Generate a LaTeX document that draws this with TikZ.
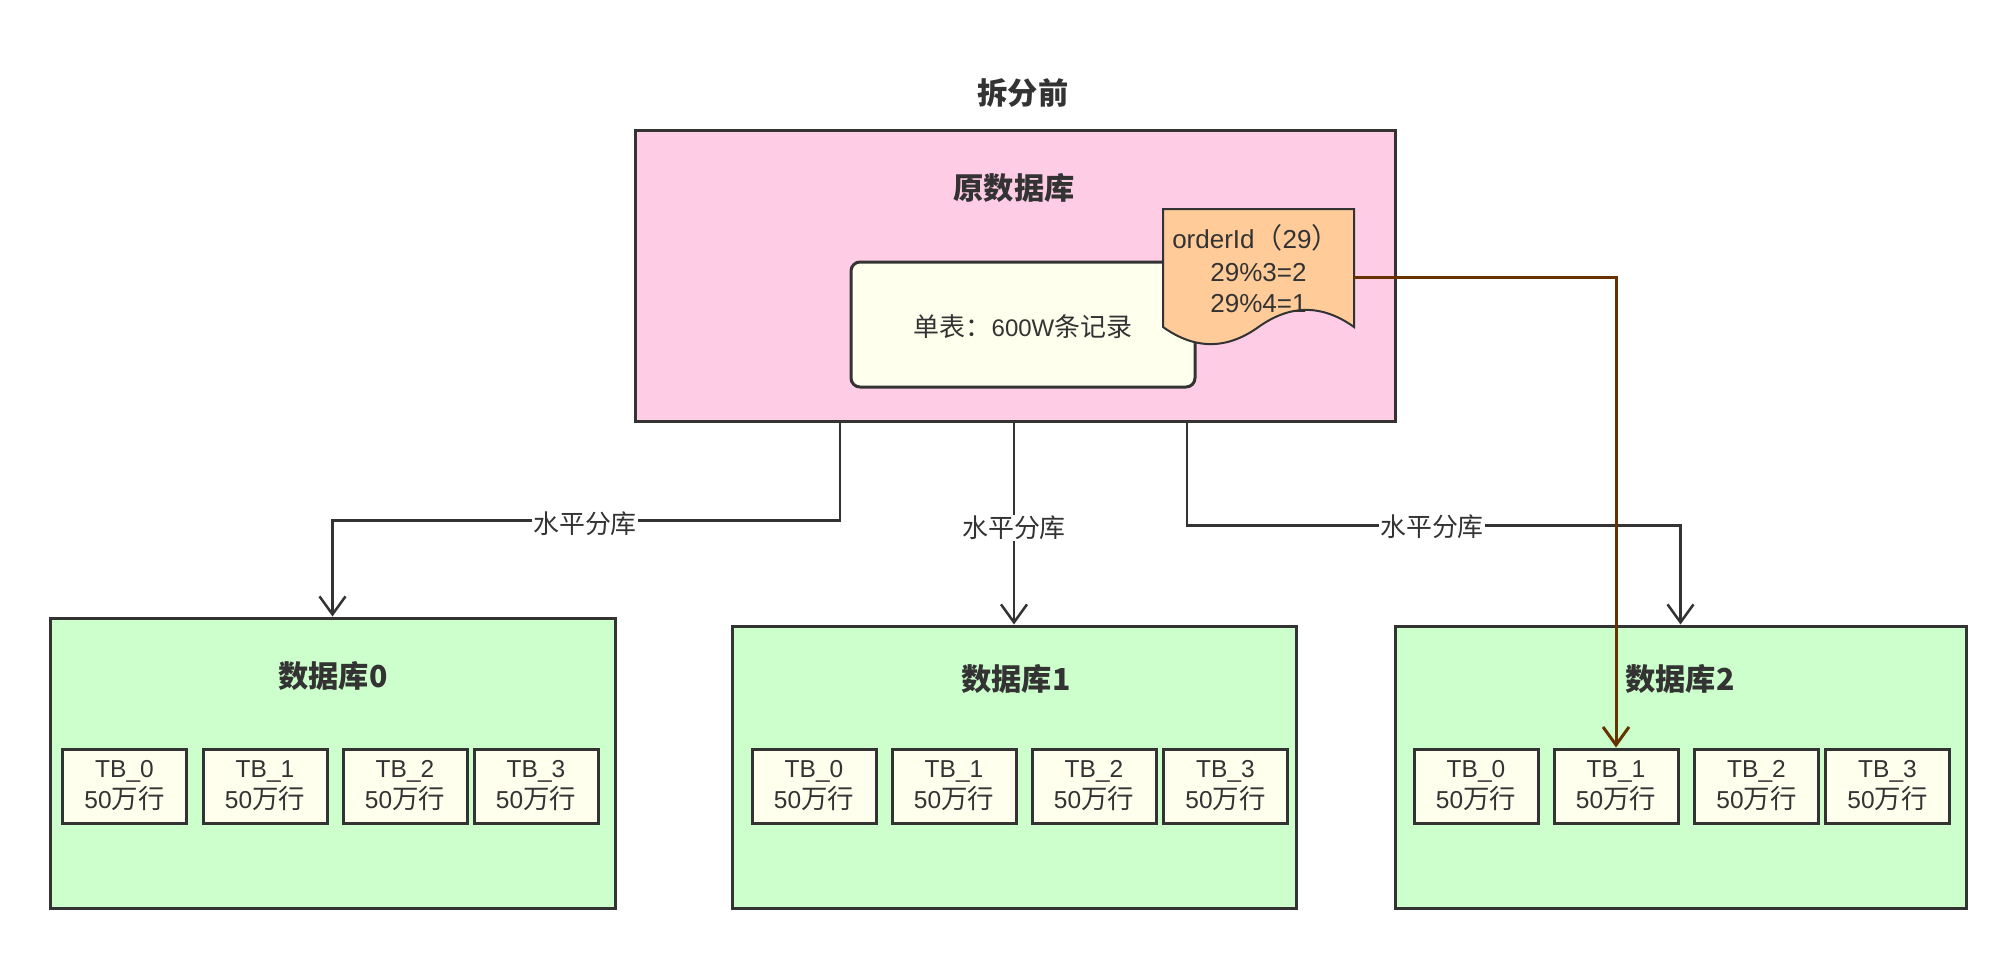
\documentclass[tikz,border=0pt]{standalone}
\usepackage{fontspec}
\setmainfont{Liberation Sans}
\newfontfamily\cjk[Scale=1.08]{Noto Sans CJK SC}
\usetikzlibrary{arrows.meta,calc}
\definecolor{ink}{HTML}{333333}
\definecolor{pinkfill}{HTML}{FFCCE6}
\definecolor{greenfill}{HTML}{CCFFCC}
\definecolor{notefill}{HTML}{FFFFEE}
\definecolor{docfill}{HTML}{FFCC99}
\definecolor{brownline}{HTML}{663300}
\tikzset{
  box/.style={draw=ink, line width=3pt, inner sep=0pt, rectangle},
  dbbox/.style={box, fill=greenfill, minimum height=282pt},
  tbbox/.style={box, fill=notefill, minimum width=124pt, minimum height=74pt, align=center,
    font=\fontsize{24.5}{31}\selectfont},
  ttl/.style={font=\fontsize{28}{34}\selectfont\cjk\bfseries, inner sep=0pt},
  plain/.style={font=\fontsize{24}{31}\selectfont, inner sep=0pt},
  doctext/.style={font=\fontsize{26}{31}\selectfont, inner sep=0pt, anchor=base},
  conn/.style={draw=ink, line width=2.5pt, -{Straight Barb[length=18pt,width=26pt]}},
  lbl/.style={fill=white, inner sep=1pt, font=\fontsize{24}{24}\selectfont\cjk},
}
\begin{document}
\begin{tikzpicture}[x=1pt,y=-1pt, every node/.append style={text=ink}]
\useasboundingbox (0,0) rectangle (2016,958);

% title
\node[ttl] (title) at (1023,93) {拆分前};

% original database
\node[box, fill=pinkfill, minimum width=760pt, minimum height=291pt] (orig) at (1015,275.5) {};
\node[ttl] (origt) at (1014,188) {原数据库};
\node[box, fill=notefill, rounded corners=9pt, minimum width=344pt, minimum height=125pt] (single) at (1023,324.5) {};
\node[plain] (singlet) at (1023,327) {{\cjk 单表：}600W{\cjk 条记录}};

% document shape
\node[minimum width=191pt, minimum height=137pt, inner sep=0pt] (doc) at (1258.5,277.5) {};
\draw[draw=ink, fill=docfill, line width=2pt] (1163,209) -- (1354,209) -- (1354,327)
  .. controls (1322.2,304.2) and (1290.3,304.2) .. (1258.5,327)
  .. controls (1226.7,349.8) and (1194.8,349.8) .. (1163,327) -- cycle;
\node[doctext] (doc1) at (1256,248) {orderId{\cjk （}29{\cjk ）}};
\node[doctext] (doc2) at (1258.5,281) {29\%3=2};
\node[doctext] (doc3) at (1258.5,312) {29\%4=1};

% split databases
\node[dbbox, minimum width=565pt, minimum height=290pt] (db0) at (332.5,763) {};
\node[dbbox, minimum width=564pt] (db1) at (1014,767) {};
\node[dbbox, minimum width=571pt] (db2) at (1680.5,767) {};
\node[ttl] (db0t) at (333,676) {数据库0};
\node[ttl] (db1t) at (1016,679) {数据库1};
\node[ttl] (db2t) at (1680,679) {数据库2};

% tables
\foreach \db/\xa/\xb/\xc/\xd in {0/124.5/265/405/536, 1/814/954/1094/1225.5, 2/1476/1616/1756.5/1887.5}{
  \node[tbbox] (d\db t0) at (\xa,786) {TB\_0\\50{\cjk 万行}};
  \node[tbbox] (d\db t1) at (\xb,786) {TB\_1\\50{\cjk 万行}};
  \node[tbbox] (d\db t2) at (\xc,786) {TB\_2\\50{\cjk 万行}};
  \node[tbbox] (d\db t3) at (\xd,786) {TB\_3\\50{\cjk 万行}};
}

% connectors
\draw[conn] ([xshift=-175pt]orig.south) -- ++(0,98) -| (db0.north);
\draw[conn] (db1.north |- orig.south) -- (db1.north);
\draw[conn] ([xshift=172pt]orig.south) -- ++(0,103) -| (db2.north);
\node[lbl] (lab0) at (585,524) {水平分库};
\node[lbl] (lab1) at (1014,528) {水平分库};
\node[lbl] (lab2) at (1432,527) {水平分库};

% routing arrow
\draw[draw=brownline, line width=3pt, -{Straight Barb[length=18pt,width=26pt]}] (doc.east) -| (d2t1.north);
\end{tikzpicture}
\end{document}
